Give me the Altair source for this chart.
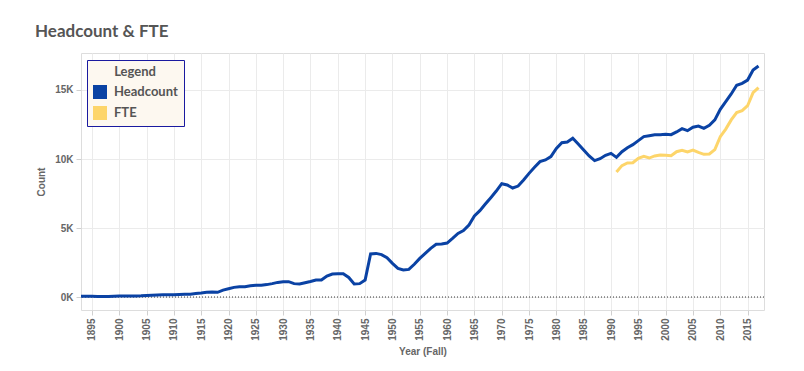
import altair as alt
import pandas as pd

years_hc = list(range(1893, 2018))
headcount = [
    50, 50, 50, 45, 40, 45, 55, 70, 75, 70,          # 1893-1902
    70, 85, 110, 130, 150, 170, 170, 170, 190, 200,   # 1903-1912
    210, 250, 290, 340, 360, 340, 500, 600, 700, 750, # 1913-1922
    750, 820, 850, 850, 900, 970, 1060, 1110, 1110, 970,  # 1923-1932
    940, 1040, 1130, 1230, 1230, 1520, 1670, 1690, 1690, 1420,  # 1933-1942
    940, 970, 1230, 3120, 3160, 3070, 2850, 2440, 2080, 1960,   # 1943-1952
    2000, 2370, 2800, 3160, 3530, 3820, 3840, 3910, 4250, 4610, # 1953-1962
    4810, 5220, 5870, 6260, 6740, 7200, 7680, 8210, 8120, 7900, # 1963-1972
    8040, 8480, 8960, 9400, 9810, 9930, 10170, 10770, 11180, 11230,  # 1973-1982
    11500, 11090, 10650, 10220, 9880, 10020, 10270, 10410, 10120, 10530,  # 1983-1992
    10820, 11040, 11330, 11620, 11690, 11760, 11760, 11790, 11760, 11960,  # 1993-2002
    12200, 12050, 12300, 12390, 12220, 12440, 12830, 13600, 14160, 14710,  # 2003-2012
    15340, 15480, 15720, 16450, 16740,  # 2013-2017
]

years_fte = list(range(1991, 2018))
fte = [
    9060, 9520, 9710, 9730, 10050, 10190, 10070, 10220, 10290, 10270,
    10240, 10530, 10630, 10510, 10650, 10480, 10340, 10360, 10680, 11620,
    12170, 12830, 13360, 13500, 13860, 14810, 15170,
]

series_names = ["Headcount", "FTE"]
series_colors = ["#0a42a4", "#fdd56a"]
x_ticks = list(range(1895, 2016, 5))
y_ticks = [0, 5000, 10000, 15000]

df = pd.concat([
    pd.DataFrame({"Year": years_hc, "Count": headcount, "Series": "Headcount"}),
    pd.DataFrame({"Year": years_fte, "Count": fte, "Series": "FTE"}),
])

lab_color = "#666666"

x_enc = alt.X(
    "Year:Q",
    title="Year (Fall)",
    scale=alt.Scale(domain=[1893, 2018], nice=False, zero=False),
    axis=alt.Axis(
        values=x_ticks, format="d", labelAngle=270, labelAlign="right",
        labelBaseline="middle", labelFont="Liberation Sans", labelFontSize=10,
        labelFontWeight="bold", labelColor=lab_color, labelPadding=3,
        labelOverlap=False,
        tickSize=5, tickColor="#d0d0d0", domain=False,
        grid=True, gridColor="#ebebeb",
        titleFont="Liberation Sans", titleFontSize=10, titleFontWeight="bold",
        titleColor=lab_color, titlePadding=6,
    ),
)

y_enc = alt.Y(
    "Count:Q",
    title="Count",
    scale=alt.Scale(domain=[-940, 17680], nice=False, zero=False),
    axis=alt.Axis(
        values=y_ticks, labelExpr="datum.value / 1000 + 'K'",
        labelFont="Liberation Sans", labelFontSize=10, labelFontWeight="bold",
        labelColor=lab_color, labelPadding=3, tickSize=5, tickColor="#d0d0d0",
        domain=False, grid=True, gridColor="#ebebeb",
        titleFont="Liberation Sans", titleFontSize=10, titleFontWeight="bold",
        titleColor=lab_color, titlePadding=8,
    ),
)

lines = alt.Chart(df).mark_line(strokeWidth=3).encode(
    x=x_enc,
    y=y_enc,
    stroke=alt.Stroke(
        "Series:N", scale=alt.Scale(domain=series_names, range=series_colors),
        sort=series_names, legend=None,
    ),
    detail="Series:N",
)

legend_pts = alt.Chart(df).mark_square(opacity=0, size=1).encode(
    x=x_enc,
    y=y_enc,
    fill=alt.Fill(
        "Series:N", scale=alt.Scale(domain=series_names, range=series_colors),
        sort=series_names,
        legend=alt.Legend(
            title="Legend", orient="none", legendX=6, legendY=7,
            fillColor="#fdf8f0", strokeColor="#1a1aa0", padding=6,
            titleAnchor="middle", titleFont="Lato", titleFontSize=13,
            titleFontWeight="bold", titleColor="#555555", titlePadding=6,
            labelFont="Lato", labelFontSize=13, labelFontWeight="bold",
            labelColor="#555555", symbolType="square", symbolSize=196,
            symbolStrokeWidth=0, rowPadding=7, labelOffset=7,
            symbolOpacity=1, labelLimit=200,
        ),
    ),
)

zero = alt.Chart(pd.DataFrame({"y": [0]})).mark_rule(
    color="#333333", strokeDash=[1, 2], strokeWidth=1
).encode(y="y:Q")

chart = alt.layer(zero, lines, legend_pts).resolve_scale(
    stroke="independent", fill="independent"
).properties(
    width=683,
    height=257,
    title=alt.TitleParams(
        "Headcount & FTE", anchor="start", frame="group", dx=-46, offset=12,
        font="Lato", fontSize=17, fontWeight="bold", color="#555555",
    ),
    autosize=alt.AutoSizeParams(type="none"),
    padding={"left": 73, "top": 45, "right": 30, "bottom": 55},
).configure_view(stroke="#d4d4d4", strokeWidth=1.5).configure(background="white")

chart.save("out.html", embed_options={"renderer": "svg", "actions": False})
